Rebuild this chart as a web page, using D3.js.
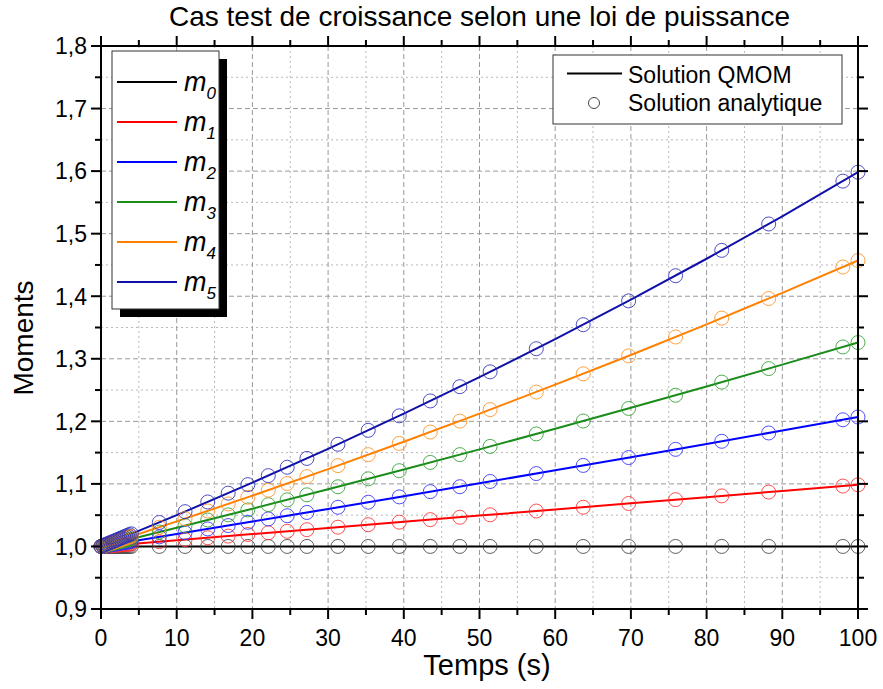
<!DOCTYPE html>
<html>
<head>
<meta charset="utf-8">
<script src="https://cdn.jsdelivr.net/npm/d3@7"></script>
<style>
  html, body { margin: 0; padding: 0; background: #fff; }
  svg { display: block; font-family: "Liberation Sans", Arial, sans-serif; }
</style>
</head>
<body>
<svg id="chart" width="883" height="689"></svg>
<script>
// Time grid of the QMOM solution (s)
const tQmom = [0, 10, 20, 30, 40, 50, 60, 70, 80, 90, 100];
const m0Qmom = [1, 1, 1, 1, 1, 1, 1, 1, 1, 1, 1];
const m1Qmom = [1, 1.0099, 1.0197, 1.0296, 1.0394, 1.0493, 1.0591, 1.0690, 1.0788, 1.0887, 1.0985];
const m2Qmom = [1, 1.0198, 1.0398, 1.0600, 1.0804, 1.1010, 1.1217, 1.1427, 1.1639, 1.1853, 1.2069];
const m3Qmom = [1, 1.0298, 1.0603, 1.0913, 1.1230, 1.1552, 1.1881, 1.2216, 1.2558, 1.2906, 1.3260];
const m4Qmom = [1, 1.0400, 1.0812, 1.1236, 1.1674, 1.2123, 1.2586, 1.3061, 1.3551, 1.4054, 1.4571];
const m5Qmom = [1, 1.0500, 1.1020, 1.1561, 1.2124, 1.2708, 1.3314, 1.3945, 1.4599, 1.5278, 1.5983];

// Sampling times of the analytical solution (s)
const tAnalytic = [0, 0.25, 0.5, 0.75, 1, 1.25, 1.5, 1.75, 2, 2.25, 2.5, 2.75, 3, 3.25, 3.5, 3.75, 4,
  7.7, 11.1, 14.1, 16.8, 19.4, 22.1, 24.6, 27.2, 31.3, 35.3, 39.4, 43.5, 47.4, 51.4, 57.5, 63.7, 69.7, 75.9, 82.0, 88.2, 98.0, 100];
const m0Analytic = [1, 1, 1, 1, 1, 1, 1, 1, 1, 1, 1, 1, 1, 1, 1, 1, 1,
  1, 1, 1, 1, 1, 1, 1, 1, 1, 1, 1, 1, 1, 1, 1, 1, 1, 1, 1, 1, 1, 1];
const m1Analytic = [1.0000, 1.0003, 1.0005, 1.0008, 1.0010, 1.0013, 1.0015, 1.0018, 1.0020, 1.0023, 1.0025, 1.0028, 1.0030, 1.0033, 1.0035, 1.0038, 1.0040,
  1.0076, 1.0109, 1.0139, 1.0165, 1.0191, 1.0218, 1.0242, 1.0268, 1.0308, 1.0348, 1.0388, 1.0428, 1.0467, 1.0506, 1.0566, 1.0627, 1.0687, 1.0748, 1.0808, 1.0869, 1.0965, 1.0985];
const m2Analytic = [1.0000, 1.0005, 1.0010, 1.0015, 1.0020, 1.0025, 1.0030, 1.0035, 1.0040, 1.0045, 1.0050, 1.0055, 1.0060, 1.0065, 1.0070, 1.0075, 1.0080,
  1.0153, 1.0220, 1.0280, 1.0334, 1.0386, 1.0440, 1.0491, 1.0543, 1.0626, 1.0707, 1.0792, 1.0876, 1.0955, 1.1038, 1.1165, 1.1295, 1.1421, 1.1552, 1.1681, 1.1814, 1.2025, 1.2069];
const m3Analytic = [1.0000, 1.0008, 1.0015, 1.0023, 1.0030, 1.0038, 1.0045, 1.0053, 1.0060, 1.0068, 1.0075, 1.0083, 1.0090, 1.0098, 1.0105, 1.0113, 1.0120,
  1.0230, 1.0332, 1.0423, 1.0505, 1.0584, 1.0668, 1.0745, 1.0825, 1.0954, 1.1081, 1.1211, 1.1343, 1.1468, 1.1599, 1.1799, 1.2005, 1.2206, 1.2417, 1.2627, 1.2843, 1.3189, 1.3260];
const m4Analytic = [1.0000, 1.0010, 1.0020, 1.0030, 1.0040, 1.0050, 1.0060, 1.0070, 1.0080, 1.0090, 1.0100, 1.0110, 1.0121, 1.0131, 1.0141, 1.0151, 1.0161,
  1.0307, 1.0444, 1.0567, 1.0679, 1.0787, 1.0900, 1.1006, 1.1116, 1.1292, 1.1467, 1.1647, 1.1829, 1.2004, 1.2187, 1.2468, 1.2760, 1.3047, 1.3348, 1.3650, 1.3963, 1.4467, 1.4571];
const m5Analytic = [1.0000, 1.0013, 1.0025, 1.0038, 1.0050, 1.0063, 1.0075, 1.0088, 1.0100, 1.0113, 1.0126, 1.0138, 1.0151, 1.0164, 1.0176, 1.0189, 1.0202,
  1.0383, 1.0556, 1.0711, 1.0852, 1.0988, 1.1132, 1.1266, 1.1407, 1.1633, 1.1856, 1.2088, 1.2326, 1.2554, 1.2791, 1.3161, 1.3545, 1.3926, 1.4328, 1.4733, 1.5155, 1.5840, 1.5983];

const momentNames = ["0", "1", "2", "3", "4", "5"];
const momentColors = ["#000000", "#ff0000", "#0000ff", "#1a8c1a", "#ff8000", "#1010a8"];
const circleColors = ["#444444", "#ff3030", "#3030ff", "#30a030", "#ff9020", "#3030b8"];

const xTicks = [0, 10, 20, 30, 40, 50, 60, 70, 80, 90, 100];
const yTicks = [0.9, 1.0, 1.1, 1.2, 1.3, 1.4, 1.5, 1.6, 1.7, 1.8];

const qmomSeries = [m0Qmom, m1Qmom, m2Qmom, m3Qmom, m4Qmom, m5Qmom];
const analyticSeries = [m0Analytic, m1Analytic, m2Analytic, m3Analytic, m4Analytic, m5Analytic];

const svg = d3.select("#chart");
const plot = { left: 101, right: 858, top: 46, bottom: 609 };

const x = d3.scaleLinear().domain([0, 100]).range([plot.left, plot.right]);
const y = d3.scaleLinear().domain([0.9, 1.8]).range([plot.bottom, plot.top]);

const fmt = v => d3.format(".1f")(v).replace(".", ",");

// Grid: minor dotted, major dashed
const minorX = d3.range(5, 100, 10);
const minorY = d3.range(0, 9).map(i => 0.95 + i * 0.1);
const grid = svg.append("g");
grid.selectAll(".gxm").data(minorX).join("line")
  .attr("x1", d => x(d)).attr("x2", d => x(d))
  .attr("y1", plot.top).attr("y2", plot.bottom)
  .attr("stroke", "#b8b8b8").attr("stroke-width", 1).attr("stroke-dasharray", "2,3");
grid.selectAll(".gym").data(minorY).join("line")
  .attr("x1", plot.left).attr("x2", plot.right)
  .attr("y1", d => y(d)).attr("y2", d => y(d))
  .attr("stroke", "#b8b8b8").attr("stroke-width", 1).attr("stroke-dasharray", "2,3");
grid.selectAll(".gxM").data(xTicks.slice(1, -1)).join("line")
  .attr("x1", d => x(d)).attr("x2", d => x(d))
  .attr("y1", plot.top).attr("y2", plot.bottom)
  .attr("stroke", "#9a9a9a").attr("stroke-width", 1).attr("stroke-dasharray", "5,3");
grid.selectAll(".gyM").data(yTicks.slice(1, -1)).join("line")
  .attr("x1", plot.left).attr("x2", plot.right)
  .attr("y1", d => y(d)).attr("y2", d => y(d))
  .attr("stroke", "#9a9a9a").attr("stroke-width", 1).attr("stroke-dasharray", "5,3");

// QMOM curves
const line = d3.line().x(d => x(d[0])).y(d => y(d[1]));
qmomSeries.forEach((vals, i) => {
  svg.append("path")
    .datum(tQmom.map((t, j) => [t, vals[j]]))
    .attr("d", line)
    .attr("fill", "none")
    .attr("stroke", momentColors[i])
    .attr("stroke-width", 2);
});

// Analytical solution markers
analyticSeries.forEach((vals, i) => {
  svg.append("g").selectAll("circle")
    .data(tAnalytic.map((t, j) => [t, vals[j]]))
    .join("circle")
    .attr("cx", d => x(d[0])).attr("cy", d => y(d[1]))
    .attr("r", 7)
    .attr("fill", "none")
    .attr("stroke", circleColors[i])
    .attr("stroke-width", 1)
    .attr("stroke-opacity", 0.85);
});

// Axes on all four sides, ticks pointing outward
const minorXt = d3.range(5, 100, 10);
const minorYt = minorY;
function ticks(g, orient) {
  const vals = (orient === "bottom" || orient === "top") ? xTicks : yTicks;
  const minors = (orient === "bottom" || orient === "top") ? minorXt : minorYt;
  const all = vals.map(v => [v, 10]).concat(minors.map(v => [v, 6]));
  g.selectAll("line.t").data(all).join("line")
    .attr("stroke", "#000").attr("stroke-width", 2)
    .each(function (d) {
      const s = d3.select(this);
      if (orient === "bottom") s.attr("x1", x(d[0])).attr("x2", x(d[0])).attr("y1", plot.bottom).attr("y2", plot.bottom + d[1]);
      if (orient === "top") s.attr("x1", x(d[0])).attr("x2", x(d[0])).attr("y1", plot.top).attr("y2", plot.top - d[1]);
      if (orient === "left") s.attr("y1", y(d[0])).attr("y2", y(d[0])).attr("x1", plot.left).attr("x2", plot.left - d[1]);
      if (orient === "right") s.attr("y1", y(d[0])).attr("y2", y(d[0])).attr("x1", plot.right).attr("x2", plot.right + d[1]);
    });
}
["bottom", "top", "left", "right"].forEach(o => ticks(svg.append("g"), o));

svg.append("rect")
  .attr("x", plot.left).attr("y", plot.top)
  .attr("width", plot.right - plot.left).attr("height", plot.bottom - plot.top)
  .attr("fill", "none").attr("stroke", "#000").attr("stroke-width", 2);

// Tick labels
svg.append("g").selectAll("text").data(xTicks).join("text")
  .attr("x", d => x(d)).attr("y", 646)
  .attr("text-anchor", "middle")
  .attr("font-size", 23)
  .text(d => d);
svg.append("g").selectAll("text").data(yTicks).join("text")
  .attr("x", 87).attr("y", d => y(d)).attr("dy", "0.36em")
  .attr("text-anchor", "end")
  .attr("font-size", 23)
  .text(d => fmt(d));

// Titles
svg.append("text")
  .attr("x", (plot.left + plot.right) / 2).attr("y", 26)
  .attr("text-anchor", "middle").attr("font-size", 28)
  .text("Cas test de croissance selon une loi de puissance");
svg.append("text")
  .attr("x", 487).attr("y", 675)
  .attr("text-anchor", "middle").attr("font-size", 29)
  .text("Temps (s)");
svg.append("text")
  .attr("transform", "translate(33,338) rotate(-90)")
  .attr("text-anchor", "middle").attr("font-size", 28)
  .text("Moments");

// Moments legend with drop shadow
const lg = svg.append("g");
lg.append("rect").attr("x", 120).attr("y", 59).attr("width", 107).attr("height", 258).attr("fill", "#000");
lg.append("rect").attr("x", 112).attr("y", 51).attr("width", 107).attr("height", 258)
  .attr("fill", "#fff").attr("stroke", "#333").attr("stroke-width", 1);
momentNames.forEach((n, i) => {
  const yy = 82 + i * 40;
  lg.append("line").attr("x1", 117).attr("x2", 177).attr("y1", yy).attr("y2", yy)
    .attr("stroke", momentColors[i]).attr("stroke-width", 2);
  const t = lg.append("text").attr("x", 184).attr("y", yy + 9)
    .attr("font-size", 27).attr("font-style", "italic");
  t.append("tspan").text("m");
  t.append("tspan").attr("dy", 8).attr("font-size", 17).text(n);
});

// Solution-type legend
const lg2 = svg.append("g");
lg2.append("rect").attr("x", 553).attr("y", 55).attr("width", 289).attr("height", 69)
  .attr("fill", "#fff").attr("stroke", "#333").attr("stroke-width", 1);
lg2.append("line").attr("x1", 567).attr("x2", 622).attr("y1", 73.5).attr("y2", 73.5)
  .attr("stroke", "#000").attr("stroke-width", 2);
lg2.append("circle").attr("cx", 594).attr("cy", 103).attr("r", 5.5)
  .attr("fill", "none").attr("stroke", "#444").attr("stroke-width", 1);
lg2.append("text").attr("x", 628).attr("y", 83).attr("font-size", 23).text("Solution QMOM");
lg2.append("text").attr("x", 628).attr("y", 111).attr("font-size", 23).text("Solution analytique");
</script>
</body>
</html>
